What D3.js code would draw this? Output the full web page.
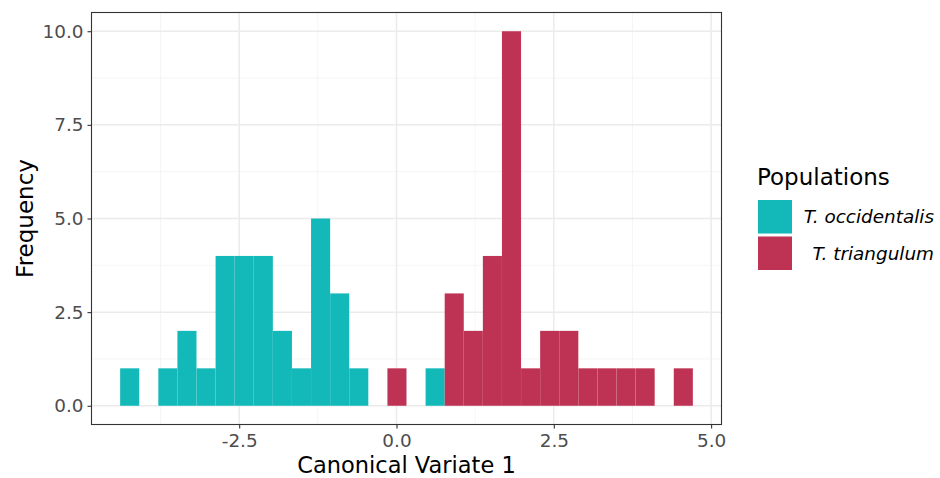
<!DOCTYPE html>
<html>
<head>
<meta charset="utf-8">
<script src="https://cdn.jsdelivr.net/npm/d3@7"></script>
<style>
  html, body { margin: 0; padding: 0; background: #fff; }
  svg { display: block; font-family: "DejaVu Sans", sans-serif; }
</style>
</head>
<body>
<svg id="chart" width="940" height="478"></svg>
<script>
// ---- data ----
const binStart = -4.392;      // left edge of first bin
const binWidth = 0.3034;      // histogram bin width
const occidentalisCounts = [1,0,1,2,1,4,4,4,2,1,5,3,1,0,0,0,1,0,0,0,0,0,0,0,0,0,0,0,0,0];
const triangulumCounts   = [0,0,0,0,0,0,0,0,0,0,0,0,0,0,1,0,0,3,2,4,10,1,2,2,1,1,1,1,0,1];
const seriesNames = ["T. occidentalis", "T. triangulum"];
const seriesColors = ["#13B8B9", "#BE3354"];
const xTicks = [-2.5, 0, 2.5, 5.0];
const xMinor = [-3.75, -1.25, 1.25, 3.75];
const yTicks = [0, 2.5, 5, 7.5, 10];
const yMinor = [1.25, 3.75, 6.25, 8.75];
const xTitle = "Canonical Variate 1";
const yTitle = "Frequency";
const legendTitle = "Populations";

// ---- layout ----
const svg = d3.select("#chart");
const P = { left: 91.5, right: 721.5, top: 12.5, bottom: 424.5 };
const fmt = d => d3.format(".1f")(d).replace("\u2212", "-");

const nBins = occidentalisCounts.length;
const dataMin = binStart, dataMax = binStart + nBins * binWidth;
const xPad = (dataMax - dataMin) * 0.05;
const x = d3.scaleLinear().domain([dataMin - xPad, dataMax + xPad]).range([P.left, P.right]);
const yMax = d3.max([...occidentalisCounts, ...triangulumCounts]);
const yPad = yMax * 0.05;
const y = d3.scaleLinear().domain([0 - yPad, yMax + yPad]).range([P.bottom, P.top]);

// grid
const g = svg.append("g");
g.selectAll(".xminor").data(xMinor).join("line")
  .attr("x1", d => x(d)).attr("x2", d => x(d)).attr("y1", P.top).attr("y2", P.bottom)
  .attr("stroke", "#f2f2f2").attr("stroke-width", 0.8);
g.selectAll(".yminor").data(yMinor).join("line")
  .attr("y1", d => y(d)).attr("y2", d => y(d)).attr("x1", P.left).attr("x2", P.right)
  .attr("stroke", "#f2f2f2").attr("stroke-width", 0.8);
g.selectAll(".xmajor").data(xTicks).join("line")
  .attr("x1", d => x(d)).attr("x2", d => x(d)).attr("y1", P.top).attr("y2", P.bottom)
  .attr("stroke", "#ebebeb").attr("stroke-width", 1.5);
g.selectAll(".ymajor").data(yTicks).join("line")
  .attr("y1", d => y(d)).attr("y2", d => y(d)).attr("x1", P.left).attr("x2", P.right)
  .attr("stroke", "#ebebeb").attr("stroke-width", 1.5);

// bars
const series = [occidentalisCounts, triangulumCounts];
series.forEach((counts, si) => {
  const bins = counts.map((c, i) => ({ x0: binStart + i * binWidth, x1: binStart + (i + 1) * binWidth, c }))
    .filter(d => d.c > 0);
  svg.append("g").selectAll("rect").data(bins).join("rect")
    .attr("x", d => x(d.x0)).attr("width", d => x(d.x1) - x(d.x0))
    .attr("y", d => y(d.c)).attr("height", d => y(0) - y(d.c))
    .attr("fill", seriesColors[si])
    .attr("stroke", "#ffffff").attr("stroke-opacity", 0.06).attr("stroke-width", 0.5);
});

// panel border
svg.append("rect").attr("x", P.left).attr("y", P.top)
  .attr("width", P.right - P.left).attr("height", P.bottom - P.top)
  .attr("fill", "none").attr("stroke", "#333333").attr("stroke-width", 1.1);

// axes
const xAxis = svg.append("g").attr("transform", `translate(0,${P.bottom})`)
  .call(d3.axisBottom(x).tickValues(xTicks).tickSize(4).tickPadding(3).tickFormat(fmt));
const yAxis = svg.append("g").attr("transform", `translate(${P.left},0)`)
  .call(d3.axisLeft(y).tickValues(yTicks).tickSize(4).tickPadding(4).tickFormat(fmt));
[xAxis, yAxis].forEach(a => {
  a.select(".domain").remove();
  a.selectAll(".tick line").attr("stroke", "#333333").attr("stroke-width", 1.1);
  a.selectAll(".tick text").attr("fill", "#4d4d4d").style("font-size", "18.4px")
    .style("font-family", "DejaVu Sans, sans-serif");
});
xAxis.selectAll(".tick text").attr("dy", "0.85em");

// axis titles
svg.append("text").attr("x", (P.left + P.right) / 2).attr("y", 472.5)
  .attr("text-anchor", "middle").style("font-size", "22.5px").attr("fill", "#000").text(xTitle);
svg.append("text").attr("transform", `translate(25,${(P.top + P.bottom) / 2}) rotate(-90)`)
  .attr("text-anchor", "middle").attr("dy", "0.35em").style("font-size", "23px").attr("fill", "#000").text(yTitle);

// legend
const lg = svg.append("g");
lg.append("text").attr("x", 757).attr("y", 185).style("font-size", "23px").attr("fill", "#000").text(legendTitle);
seriesNames.forEach((name, i) => {
  const ky = 200 + i * 36.5;
  lg.append("rect").attr("x", 758).attr("y", ky).attr("width", 34).attr("height", 33.5)
    .attr("fill", seriesColors[i]);
  lg.append("text").attr("x", 934).attr("y", ky + 16.75).attr("dy", "0.35em")
    .attr("text-anchor", "end").style("font-size", "18.4px").style("font-style", "italic")
    .attr("fill", "#000").text(name);
});
</script>
</body>
</html>
